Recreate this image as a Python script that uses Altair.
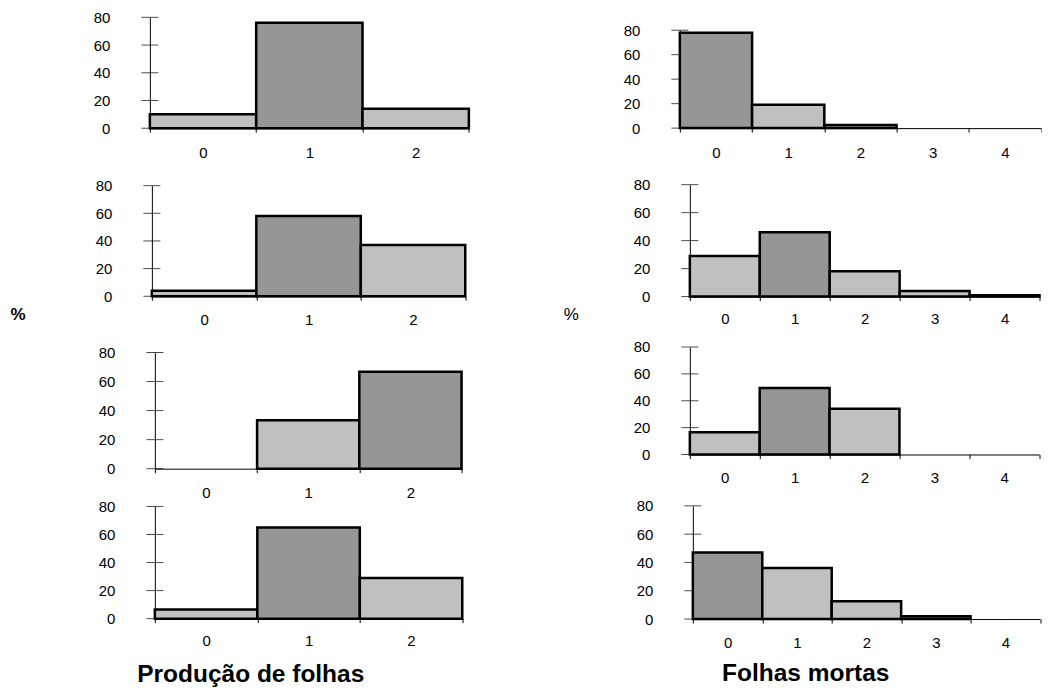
import altair as alt
import pandas as pd

# ---------------- data ----------------
prod_cats = ["0", "1", "2"]
prod_p1 = [10, 76, 14]
prod_p2 = [4, 58, 37]
prod_p3 = [0, 33.3, 66.7]
prod_p4 = [6.5, 65, 29]

mort_cats = ["0", "1", "2", "3", "4"]
mort_p1 = [78, 19, 2.5, 0, 0]
mort_p2 = [29, 46, 18, 4, 1]
mort_p3 = [16.5, 49.5, 34, 0, 0]
mort_p4 = [47, 36, 12.5, 2, 0]

y_ticks = [0, 20, 40, 60, 80]

title_left = "Produção de folhas"
title_right = "Folhas mortas"
pct_label = "%"

FONT = "Liberation Sans"
DARK = "#969696"
LIGHT = "#C0C0C0"
LAB = 15


def panel(cats, vals, width, height, x_lp,
          xtitle=None, xtitle_x=0, xtitle_y=0,
          ytitle=None, ytitle_x=0, ytitle_y=0, ytitle_weight="normal"):
    m = max(vals)
    df = pd.DataFrame({"cat": cats, "v": vals})
    df["modal"] = ["sim" if v == m else "nao" for v in vals]
    df = df[df["v"] > 0]
    tdf = pd.DataFrame({"v": y_ticks})

    yargs = dict(values=y_ticks, ticks=False, grid=False,
                 domainColor="black", domainWidth=1,
                 labelPadding=40, labelFontSize=LAB, labelFont=FONT,
                 labelColor="black")
    if ytitle is None:
        yargs["title"] = None
    else:
        yargs.update(title=ytitle, titleAngle=0, titleAlign="right",
                     titleBaseline="middle", titleX=ytitle_x, titleY=ytitle_y,
                     titleFontSize=17, titleFont=FONT,
                     titleFontWeight=ytitle_weight, titleColor="black")
    yenc = alt.Y("v:Q", scale=alt.Scale(domain=[0, 80], nice=False),
                 axis=alt.Axis(**yargs), stack=None)

    xargs = dict(labelAngle=0, ticks=True, tickSize=4,
                 tickColor="black", tickBand="extent",
                 domainColor="black", labelPadding=x_lp,
                 labelFontSize=LAB, labelFont=FONT,
                 labelColor="black", grid=False)
    if xtitle is None:
        xargs["title"] = None
    else:
        xargs.update(title=xtitle, titleColor="black",
                     titleFontSize=24.5, titleFontWeight="bold",
                     titleFont=FONT, titleAlign="center",
                     titleBaseline="alphabetic",
                     titleX=xtitle_x, titleY=xtitle_y)
    xenc = alt.X("cat:N", sort=cats,
                 scale=alt.Scale(domain=cats, paddingInner=0, paddingOuter=0),
                 axis=alt.Axis(**xargs))

    ticks = alt.Chart(tdf).mark_tick(
        orient="horizontal", color="black", size=17, thickness=1
    ).encode(y=yenc, x=alt.value(0))

    bars = alt.Chart(df).mark_bar(stroke="black", strokeWidth=2.5).encode(
        x=xenc,
        y=yenc,
        fill=alt.Fill("modal:N",
                      scale=alt.Scale(domain=["sim", "nao"], range=[DARK, LIGHT]),
                      legend=None),
    )
    return alt.layer(ticks, bars).properties(width=width, height=height)


def blank(w=1):
    return alt.Chart(pd.DataFrame({"a": [0]})).mark_point(
        opacity=0, size=0
    ).encode(x=alt.value(0), y=alt.value(0)).properties(width=w, height=1)


def shifted(p, w):
    # places panel p a few pixels to the right of the column origin
    return alt.hconcat(blank(w), p, spacing=-400)


def chain(panels, gaps):
    c = panels[0]
    for p, g in zip(panels[1:], gaps):
        c = alt.vconcat(c, p, spacing=g)
    return c


# left column (origin x = 149)
P1 = panel(prod_cats, prod_p1, 319.3, 111, 13.5)
P2 = panel(prod_cats, prod_p2, 313.7, 110.7, 12,
           ytitle=pct_label, ytitle_x=-127, ytitle_y=128.7, ytitle_weight="bold")
P3 = panel(prod_cats, prod_p3, 307, 116.3, 12.5)
P4 = panel(prod_cats, prod_p4, 307.7, 112.3, 11,
           xtitle=title_left, xtitle_x=95.5, xtitle_y=63)
left = chain([P1, shifted(P2, 2), shifted(P3, 5), shifted(P4, 5)],
             [17.5, 17.5, -1.4])

# right column (origin x = 678.5)
R1 = panel(mort_cats, mort_p1, 361.5, 98, 13)
R2 = panel(mort_cats, mort_p2, 350, 112, 11,
           ytitle=pct_label, ytitle_x=-111.5, ytitle_y=130.2, ytitle_weight="normal")
R3 = panel(mort_cats, mort_p3, 349.7, 107.6, 12.2)
R4 = panel(mort_cats, mort_p4, 347.5, 113.3, 12.5,
           xtitle=title_right, xtitle_x=112.5, xtitle_y=62)
right = chain([blank(), R1, shifted(R2, 10), shifted(R3, 10), shifted(R4, 13)],
              [4.9, 17.5, 13.0, 13.0])

chart = alt.hconcat(left, right, spacing=92.5).properties(
    padding={"left": 1, "top": 2, "right": 0, "bottom": 0}
).configure_view(stroke=None)

chart.save("out.html", embed_options={"renderer": "svg", "actions": False})
